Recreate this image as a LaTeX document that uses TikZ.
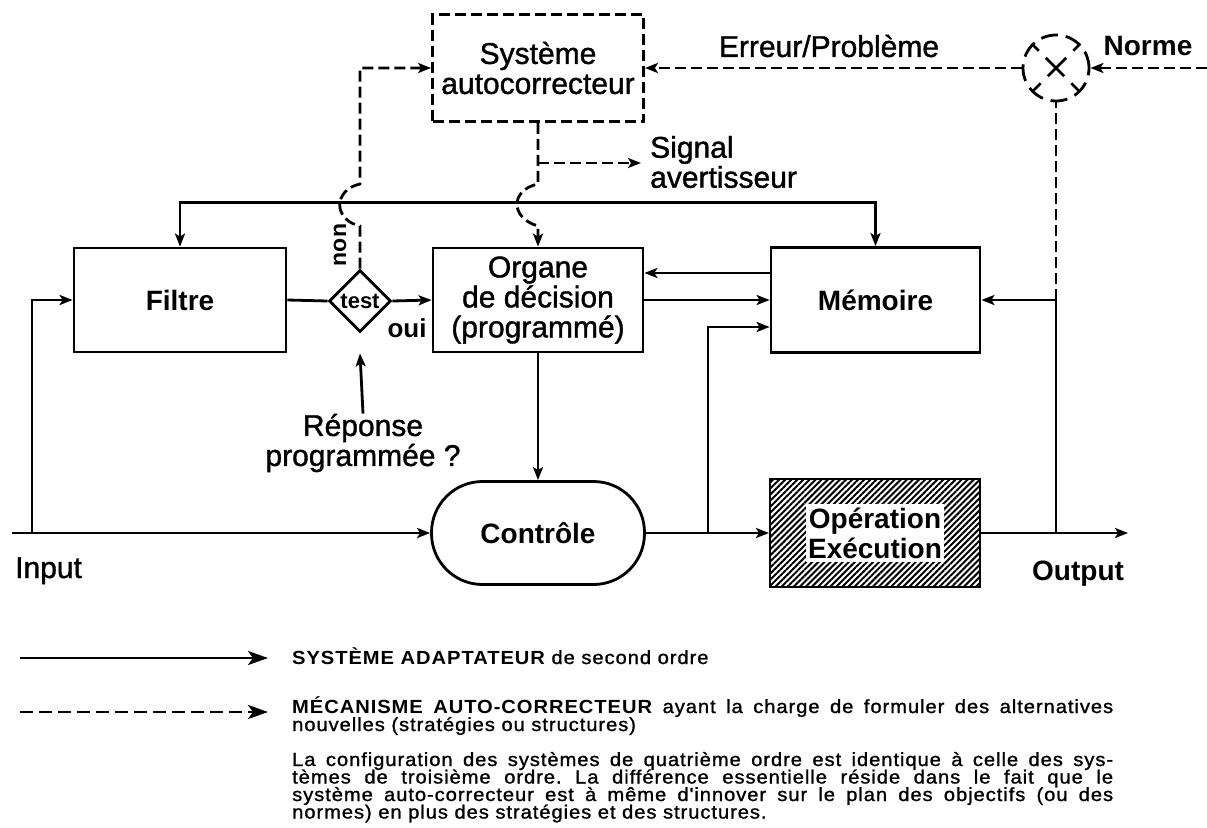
\documentclass[tikz,border=0pt]{standalone}
\usepackage{fontspec}
\setmainfont{Liberation Sans}
\newfontfamily\medfont[FakeBold=1.2]{Liberation Sans}
\newfontfamily\legfont[LetterSpace=5,FakeStretch=1.06,FakeBold=1.2]{Liberation Sans}
\newfontfamily\legbold[LetterSpace=5,FakeStretch=1.06]{Liberation Sans Bold}
\usetikzlibrary{shapes.geometric,arrows.meta,patterns.meta}
\frenchspacing
\begin{document}
\begin{tikzpicture}[x=1pt,y=-1pt,
  ln/.style={line width=2.8pt},
  tip/.style={-{Stealth[length=13pt,width=10pt,inset=3pt]}},
  tipb/.style={{Stealth[length=13pt,width=10pt,inset=3pt]}-{Stealth[length=13pt,width=10pt,inset=3pt]}},
  dsh/.style={dash pattern=on 11pt off 5pt},
  blk/.style={draw, line width=2.8pt, rectangle, inner sep=0pt, align=center},
  rg/.style={font=\medfont\fontsize{30}{30}\selectfont},
  bd/.style={font=\fontsize{28}{30}\selectfont\bfseries},
  leg/.style={font=\legfont\fontsize{19}{17.5}\selectfont, anchor=base west, inner sep=0pt},
  legarrow/.style={line width=2.8pt, -{Stealth[length=20pt,width=14pt,inset=5pt]}},
 ]
\useasboundingbox (0,0) rectangle (1207,827);
\fill[white] (0,0) rectangle (1207,827);

% ---- blocks ----
\node[blk, dsh, minimum width=211pt, minimum height=107pt, rg] (auto) at (538,68) {Système\\autocorrecteur};
\node[blk, minimum width=212pt, minimum height=104pt, bd] (filtre) at (180,300) {Filtre};
\node[blk, minimum width=210pt, minimum height=104pt, rg] (organe) at (538,300) {Organe\\de décision\\(programmé)};
\node[blk, minimum width=209pt, minimum height=105pt, bd] (memoire) at (875.5,300) {Mémoire};
\node[blk, minimum width=213pt, minimum height=103pt, rounded corners=51pt, bd] (controle) at (538,533) {Contrôle};
\node[blk, minimum width=210pt, minimum height=108pt,
      pattern={Lines[angle=45,distance=4.3pt,line width=2pt]}] (oper) at (875,533) {};
\node[fill=white, inner xsep=2pt, inner ysep=4pt, bd, align=center] (opertxt) at (oper.center) {Opération\\Exécution};
\node[draw, ln, diamond, minimum width=62pt, minimum height=62pt, inner sep=0pt,
      font=\fontsize{22}{22}\selectfont\bfseries] (test) at (360,301) {test};
\node[draw, ln, dash pattern=on 17pt off 8pt, circle, minimum size=66pt, inner sep=0pt] (comp) at (1056,68) {};
\draw[ln, dash pattern=on 10pt off 10pt on 26pt off 10pt on 10pt off 100pt] (comp.north west) -- (comp.south east);
\draw[ln, dash pattern=on 10pt off 10pt on 26pt off 10pt on 10pt off 100pt] (comp.north east) -- (comp.south west);

% ---- labels ----
\node[rg] (err) at (829,46) {Erreur/Problème};
\node[bd] (norme) at (1148,46) {Norme};
\node[rg, anchor=west, align=left, inner sep=0pt] (sig) at (650,162) {Signal\\avertisseur};
\node[font=\fontsize{23}{23}\selectfont\bfseries, rotate=90, inner sep=0pt] (non) at (340,245) {non};
\node[font=\fontsize{26}{26}\selectfont\bfseries, inner sep=0pt] (oui) at (407,328) {oui};
\node[rg, align=center, inner sep=0pt] (rep) at (363,443) {Réponse\\programmée ?};
\node[rg, anchor=base west, inner sep=0pt] (input) at (15,578) {Input};
\node[bd, anchor=base west, inner sep=0pt] (output) at (1032,580) {Output};

% ---- coordinates ----
\coordinate (inL) at (12,533);
\coordinate (inB) at (32,533);
\coordinate (br) at (708,533);
\coordinate (fb) at (1056,533);
\coordinate (outR) at (1128,533);
\coordinate (normR) at (1207,68);
\coordinate (sigS) at (538,163);
\coordinate (sigE) at (641,163);

% ---- solid connectors ----
\draw[ln, tip] (inL) -- (controle.west);
\draw[ln, tip] (inB) |- (filtre.west);
\draw[ln] (filtre.east) -- (test.west);
\draw[ln, tip] (test.east) -- (organe.west);
\draw[ln, tipb] (filtre.north) -- ++(0,-44) -| (memoire.north);
\draw[ln, tip] ([yshift=27pt]memoire.west) -- ([yshift=27pt]organe.east);
\draw[ln, tip] (organe.east) -- (memoire.west);
\draw[ln, tip] (organe.south) -- (controle.north);
\draw[ln, tip] (controle.east) -- (oper.west);
\draw[ln, tip] (br) |- ([yshift=-27pt]memoire.west);
\draw[ln, tip] (oper.east) -- (outR);
\draw[ln, tip] (fb) |- (memoire.east);
\draw[ln, tip] (rep.north) -- ([yshift=-20pt]test.south);

% ---- dashed connectors ----
\draw[ln, dsh] (fb |- memoire.east) -- (comp.south);
\draw[ln, dsh, tip] (comp.west) -- (auto.east);
\draw[ln, dsh, tip] (normR) -- (comp.east);
\draw[ln, dsh, tip] (test.north) -- (360,226) .. controls (333,220) and (333,190) .. (360,184) |- (auto.west);
\draw[ln, dsh, tip] (auto.south) -- (538,184) .. controls (510,190) and (510,218) .. (538,226) -- (organe.north);
\draw[ln, dsh, tip] (sigS) -- (sigE);

% ---- legend ----
\coordinate (l1a) at (20,658); \coordinate (l1b) at (268,658);
\coordinate (l2a) at (20,712); \coordinate (l2b) at (268,712);
\draw[legarrow] (l1a) -- (l1b);
\draw[legarrow, dash pattern=on 13pt off 6pt] (l2a) -- (l2b);
\node[leg] (t1) at (292,664) {{\legbold SYSTÈME ADAPTATEUR} de second ordre};
\node[leg] (t2) at (292,713) {\makebox[821pt][s]{{\legbold MÉCANISME AUTO-CORRECTEUR} ayant la charge de formuler des alternatives}};
\node[leg] (t3) at (292,731) {nouvelles (stratégies ou structures)};
\node[leg] (p1) at (292,766) {\makebox[821pt][s]{La configuration des systèmes de quatrième ordre est identique à celle des sys-}};
\node[leg] (p2) at (292,783.5) {\makebox[821pt][s]{tèmes de troisième ordre. La différence essentielle réside dans le fait que le}};
\node[leg] (p3) at (292,801) {\makebox[821pt][s]{système auto-correcteur est à même d'innover sur le plan des objectifs (ou des}};
\node[leg] (p4) at (292,818.5) {normes) en plus des stratégies et des structures.};
\end{tikzpicture}
\end{document}
